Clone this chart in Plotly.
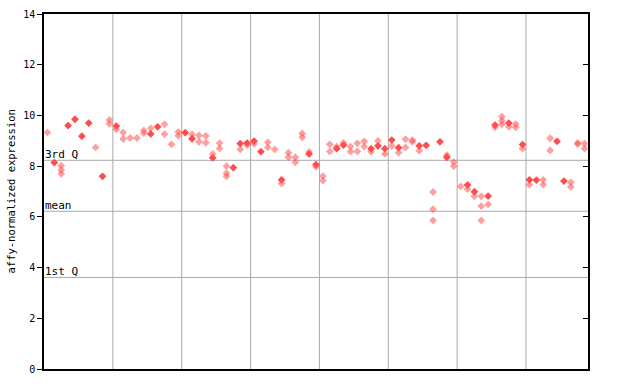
import plotly.graph_objects as go

# replicate values per sample (index = sample order); "solid" = dense markers, "light" = dithered markers
solid = [
    [], [8.14], [], [9.6], [9.85], [9.18], [9.7], [], [7.6], [],
    [9.58], [], [], [], [], [9.27], [9.55], [], [], [],
    [9.32], [9.08], [], [], [8.33], [], [], [7.94], [8.89], [8.91],
    [8.99], [8.57], [], [], [7.46], [], [], [], [8.48], [8.06],
    [], [], [8.69], [8.83], [], [], [], [8.69], [8.8], [8.69],
    [9.03], [8.73], [], [], [8.8], [8.82], [], [8.96], [8.35], [],
    [], [7.26], [6.99], [], [6.82], [9.62], [], [9.7], [], [8.85],
    [7.46], [7.45], [], [], [8.98], [7.41], [], [], [],
]
light = [
    [9.33], [], [8.02, 7.85, 7.7], [], [], [], [], [8.74], [], [9.82, 9.67],
    [9.45], [9.33, 9.07], [9.11], [9.11], [9.41, 9.3], [9.49], [], [9.65, 9.26], [8.86], [9.35, 9.2],
    [], [9.25], [9.21, 8.96], [9.19, 8.92], [8.48], [8.91, 8.7], [8.0, 7.72, 7.6], [], [8.66], [8.83],
    [8.88], [], [8.94, 8.74], [8.66], [7.32], [8.53, 8.35], [8.35, 8.15], [9.29, 9.14], [8.56], [7.98],
    [7.61, 7.43], [8.86, 8.58], [8.77], [8.92], [8.77, 8.57], [8.9, 8.58], [8.98, 8.77], [8.57], [9.0], [8.48],
    [8.79], [8.53], [9.06, 8.74], [9.03, 8.96], [8.61], [], [6.98, 6.3, 5.86], [], [8.43], [8.16, 8.0],
    [7.2], [7.09], [6.81], [6.81, 6.42, 5.86], [6.49], [9.53], [9.95, 9.79, 9.65], [9.55], [9.66, 9.53], [8.69],
    [7.27], [], [7.46, 7.27], [9.1, 8.62], [], [], [7.36, 7.18], [8.92, 8.87], [8.89, 8.69],
]
group_sizes = [10, 10, 10, 10, 10, 10, 10, 9]
stat_names = ["3rd Q", "mean", "1st Q"]
stat_values = [8.23, 6.22, 3.61]
y_ticks = [0, 2, 4, 6, 8, 10, 12, 14]

n = len(solid)

def flatten(rep):
    xs, ys = [], []
    for i, vals in enumerate(rep):
        for v in vals:
            xs.append(i)
            ys.append(v)
    return xs, ys

xl, yl = flatten(light)
xs, ys = flatten(solid)

fig = go.Figure()
fig.add_trace(go.Scatter(x=xl, y=yl, mode="markers",
                         marker=dict(symbol="diamond", size=6, color="rgba(255,80,80,0.55)", line=dict(width=0)),
                         showlegend=False, hoverinfo="y"))
fig.add_trace(go.Scatter(x=xs, y=ys, mode="markers",
                         marker=dict(symbol="diamond", size=6, color="#ff4d4d", line=dict(width=0)),
                         showlegend=False, hoverinfo="y"))
# invisible trace for right axis
fig.add_trace(go.Scatter(x=[0], y=[0], yaxis="y2", mode="markers", marker=dict(opacity=0),
                         showlegend=False, hoverinfo="skip"))

shapes = []
pos = -0.5
for gs in group_sizes[:-1]:
    pos += gs
    shapes.append(dict(type="line", xref="x", yref="paper", x0=pos, x1=pos, y0=0, y1=1,
                       line=dict(color="#aaaaaa", width=1), layer="below"))
annotations = []
for name, v in zip(stat_names, stat_values):
    shapes.append(dict(type="line", xref="paper", yref="y", x0=0, x1=1, y0=v, y1=v,
                       line=dict(color="#aaaaaa", width=1), layer="below"))
    annotations.append(dict(x=0, xref="paper", y=v, yref="y", text=name, showarrow=False,
                            xanchor="left", yanchor="bottom", xshift=-1, yshift=-3,
                            font=dict(family="DejaVu Sans Mono", size=11, color="black")))
annotations.append(dict(x=-34, xref="paper", xanchor="center", y=0.5, yref="paper", yanchor="middle",
                        text="affy-normalized expression", showarrow=False, textangle=-90,
                        font=dict(family="DejaVu Sans Mono", size=10.5, color="black")))
annotations[-1]["x"] = 0
annotations[-1]["xshift"] = -34

fig.update_layout(
    width=640, height=384,
    margin=dict(l=44, r=52, t=14, b=15, autoexpand=False),
    plot_bgcolor="white", paper_bgcolor="white",
    shapes=shapes, annotations=annotations,
    xaxis=dict(range=[-0.5, n - 0.5], showgrid=False, zeroline=False, showticklabels=False,
               ticks="", showline=True, linecolor="black", linewidth=1.5, mirror=True, automargin=False),
    yaxis=dict(range=[0, 14], tickvals=y_ticks, showgrid=False, zeroline=False,
               ticks="outside", ticklen=5, tickcolor="black", tickwidth=1,
               showline=True, linecolor="black", linewidth=1.5, mirror=True, automargin=False,
               tickfont=dict(family="DejaVu Sans Mono", size=10, color="black")),
    yaxis2=dict(range=[0, 14], tickvals=y_ticks, overlaying="y", side="right",
                showgrid=False, zeroline=False, showticklabels=False, automargin=False,
                ticks="inside", ticklen=5, tickcolor="black", showline=False),
)
fig.write_html("out.html")
